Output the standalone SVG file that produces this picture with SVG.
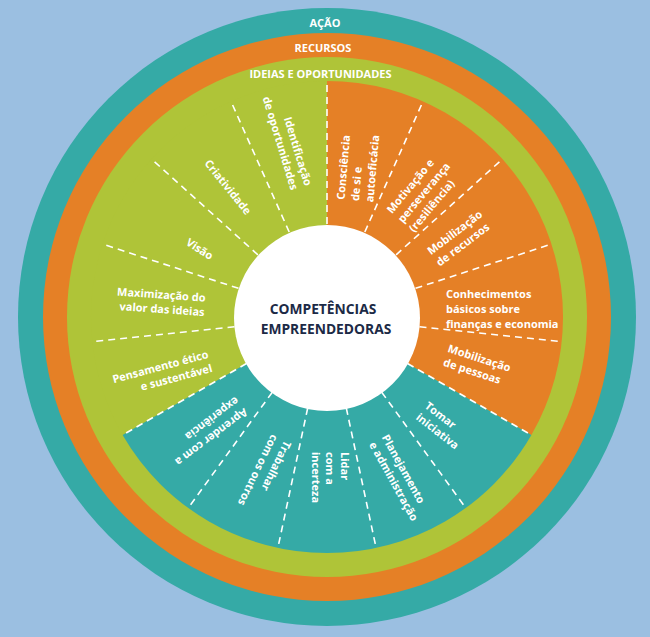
<svg xmlns="http://www.w3.org/2000/svg" width="650" height="637" viewBox="0 0 650 637">
<style>
.lbl{font-family:"Open Sans","Liberation Sans",sans-serif;font-weight:700;font-size:11px;fill:#ffffff}
.ring{font-family:"Open Sans","Liberation Sans",sans-serif;font-weight:700;font-size:11px;fill:#ffffff;text-anchor:middle}
.ctr{font-family:"Open Sans","Liberation Sans",sans-serif;font-weight:700;font-size:13.8px;fill:#1c2a46;text-anchor:middle}
.div{stroke:#ffffff;stroke-width:1.6;stroke-dasharray:7 5;fill:none}
.e{text-anchor:end}
</style>
<rect width="650" height="637" fill="#9bbfe1"/>
<g id="ring-acao"><circle cx="327" cy="317" r="309" fill="#35aaa6"/><text class="ring" x="325" y="27">AÇÃO</text></g>
<g id="ring-recursos"><circle cx="327" cy="317" r="284" fill="#e58026"/><text class="ring" x="323" y="52">RECURSOS</text></g>
<g id="ring-ideias"><circle cx="327" cy="317" r="260" fill="#afc438"/><text class="ring" x="320.5" y="78">IDEIAS E OPORTUNIDADES</text></g>
<g id="sector-ideias"><path d="M327,317 L122.6,435 A236,236 0 0 1 327,81 Z" fill="#afc438"/></g>
<g id="sector-recursos"><path d="M327,317 L327,81 A236,236 0 0 1 531.4,435 Z" fill="#e58026"/></g>
<g id="sector-acao"><path d="M327,317 L531.4,435 A236,236 0 0 1 122.6,435 Z" fill="#35aaa6"/></g>
<g id="connectors">
<line class="div" x1="246.5" y1="363.5" x2="122.6" y2="435"/>
<line class="div" x1="234.5" y1="326.7" x2="92.3" y2="341.7"/>
<line class="div" x1="238.5" y1="288.3" x2="102.5" y2="244.1"/>
<line class="div" x1="257.9" y1="254.8" x2="151.6" y2="159.1"/>
<line class="div" x1="289.2" y1="232" x2="231" y2="101.4"/>
<line class="div" x1="327" y1="224" x2="327" y2="81"/>
<line class="div" x1="364.8" y1="232" x2="423" y2="101.4"/>
<line class="div" x1="396.1" y1="254.8" x2="502.4" y2="159.1"/>
<line class="div" x1="415.5" y1="288.3" x2="551.5" y2="244.1"/>
<line class="div" x1="419.5" y1="326.7" x2="561.7" y2="341.7"/>
<line class="div" x1="407.5" y1="363.5" x2="531.4" y2="435"/>
<line class="div" x1="381.7" y1="392.2" x2="465.7" y2="507.9"/>
<line class="div" x1="346.3" y1="408" x2="376.1" y2="547.8"/>
<line class="div" x1="307.7" y1="408" x2="277.9" y2="547.8"/>
<line class="div" x1="272.3" y1="392.2" x2="188.3" y2="507.9"/>
</g>
<g id="center"><circle cx="327" cy="318" r="93" fill="#ffffff"/><text class="ctr" x="323" y="313.5">COMPETÊNCIAS</text><text class="ctr" x="326" y="333.5">EMPREENDEDORAS</text></g>
<g id="n-identificacao" transform="translate(301.5,187.5) rotate(73)"><text class="lbl e" y="-3.4">Identificação</text><text class="lbl e" y="11.1">de oportunidades</text></g>
<g id="n-criatividade" transform="translate(249,213) rotate(51)"><text class="lbl e" y="3.9">Criatividade</text></g>
<g id="n-visao" transform="translate(212,257) rotate(33)"><text class="lbl e" y="3.9">Visão</text></g>
<g id="n-maximizacao" transform="translate(205,305) rotate(4)"><text class="lbl e" y="-3.4">Maximização do</text><text class="lbl e" y="11.1">valor das ideias</text></g>
<g id="n-pensamento" transform="translate(210,361) rotate(-15)"><text class="lbl e" y="-3.4">Pensamento ético</text><text class="lbl e" y="11.1">e sustentável</text></g>
<g id="n-consciencia" transform="translate(355,201) rotate(-85)"><text class="lbl" y="-10.6">Consciência</text><text class="lbl" y="3.9">de si e</text><text class="lbl" y="18.4">autoeficácia</text></g>
<g id="n-motivacao" transform="translate(400,221) rotate(-50)"><text class="lbl" y="-10.6">Motivação e</text><text class="lbl" y="3.9">perseverança</text><text class="lbl" y="18.4">(resiliência)</text></g>
<g id="n-mob-recursos" transform="translate(433,258) rotate(-37)"><text class="lbl" y="-3.4">Mobilização</text><text class="lbl" y="11.1">de recursos</text></g>
<g id="n-conhecimentos" transform="translate(446,309)"><text class="lbl" y="-10.8">Conhecimentos</text><text class="lbl" y="3.9">básicos sobre</text><text class="lbl" y="18.6">finanças e economia</text></g>
<g id="n-mob-pessoas" transform="translate(446,355) rotate(18)"><text class="lbl" y="-3.4">Mobilização</text><text class="lbl" y="11.1">de pessoas</text></g>
<g id="n-tomar" transform="translate(422,410) rotate(38)"><text class="lbl" y="-3.4">Tomar</text><text class="lbl" y="11.1">iniciativa</text></g>
<g id="n-planejamento" transform="translate(378.5,439) rotate(61)"><text class="lbl" y="-3.4">Planejamento</text><text class="lbl" y="11.1">e administração</text></g>
<g id="n-lidar" transform="translate(330,452) rotate(90)"><text class="lbl" y="-10.6">Lidar</text><text class="lbl" y="3.9">com a</text><text class="lbl" y="18.4">incerteza</text></g>
<g id="n-trabalhar" transform="translate(281.5,438.5) rotate(116)"><text class="lbl" y="-3.4">Trabalhar</text><text class="lbl" y="11.1">com os outros</text></g>
<g id="n-aprender" transform="translate(242,405) rotate(143)"><text class="lbl" y="-3.4">Aprender com a</text><text class="lbl" y="11.1">experiência</text></g>
</svg>
